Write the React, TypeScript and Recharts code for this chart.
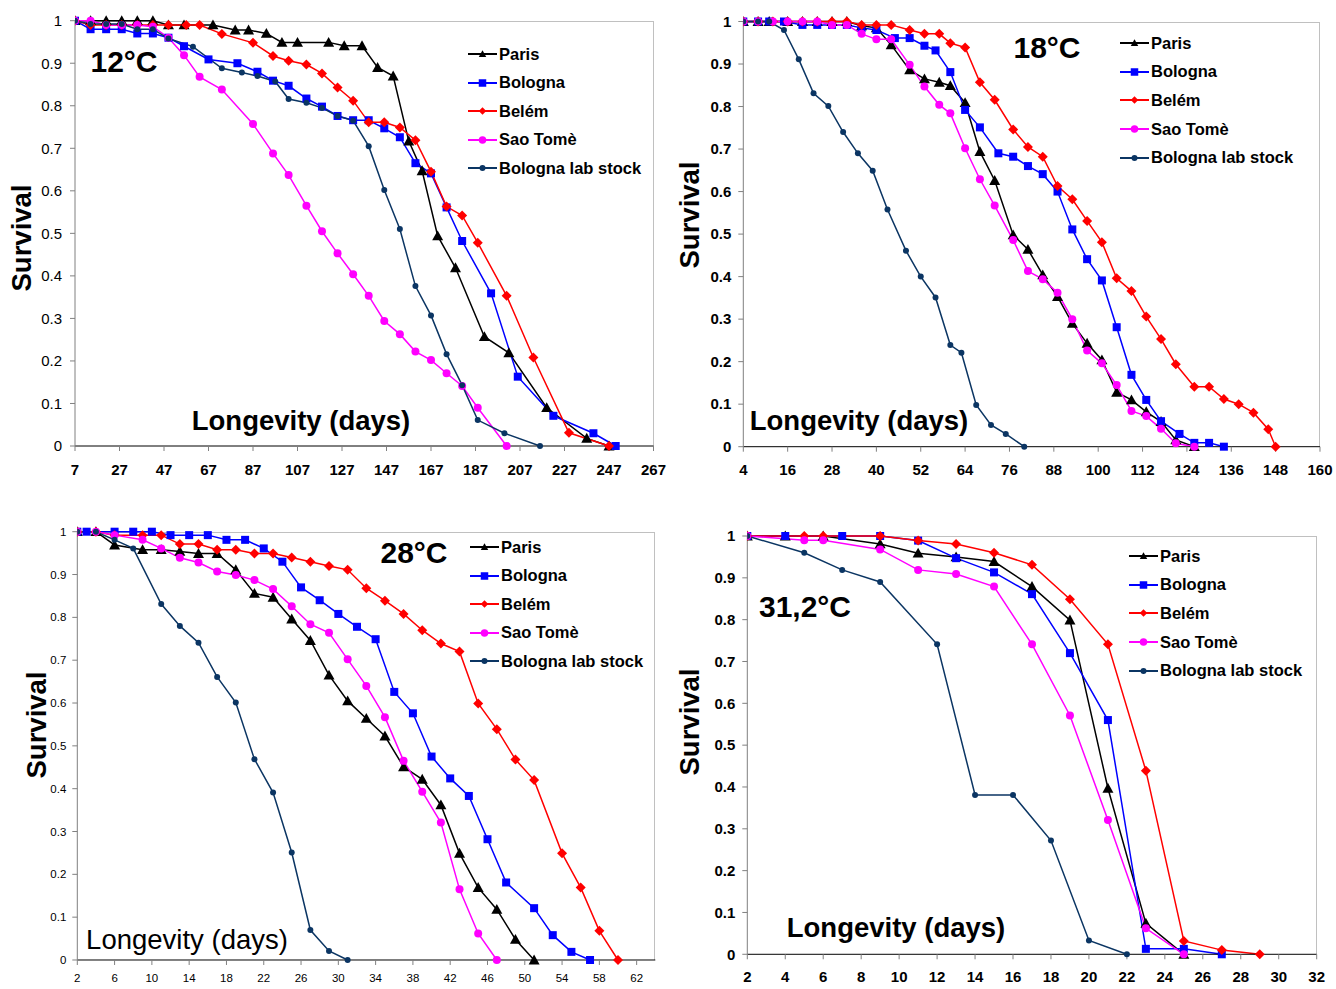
import React from 'react';
import { LineChart, Line, XAxis, YAxis } from 'recharts';

type Pair = [number, number];

// ---- 12°C ----
const paris12: Pair[] = [[7,1],[14,1],[21,1],[28,1],[35,1],[42,1],[49,0.99],[56,0.99],[69,0.99],[79,0.978],[85,0.978],[93,0.97],[100,0.949],[107,0.949],[121,0.949],[128,0.941],[136,0.941],[143,0.89],[150,0.87],[157,0.717],[163,0.647],[170,0.494],[178,0.419],[191,0.257],[202,0.219],[219,0.09],[237,0.018],[247,0]];
const bologna12: Pair[] = [[7,1],[14,0.98],[21,0.98],[28,0.98],[35,0.97],[42,0.97],[49,0.96],[56,0.94],[67,0.909],[80,0.9],[89,0.88],[96,0.859],[103,0.847],[111,0.817],[118,0.798],[125,0.776],[132,0.766],[139,0.766],[146,0.747],[153,0.726],[160,0.665],[167,0.641],[174,0.561],[181,0.482],[194,0.359],[206,0.163],[222,0.071],[240,0.03],[250,0]];
const belem12: Pair[] = [[7,1],[14,0.99],[21,0.99],[28,0.99],[35,0.99],[42,0.99],[49,0.99],[57,0.99],[63,0.99],[73,0.969],[87,0.948],[96,0.917],[103,0.906],[111,0.897],[118,0.876],[125,0.843],[132,0.812],[139,0.761],[146,0.761],[153,0.749],[160,0.719],[167,0.645],[174,0.563],[181,0.542],[188,0.478],[201,0.353],[213,0.208],[229,0.031],[247,0]];
const saoTome12: Pair[] = [[7,1],[14,1],[21,0.99],[28,0.99],[35,0.99],[42,0.986],[49,0.96],[56,0.919],[63,0.868],[73,0.838],[87,0.757],[96,0.688],[103,0.637],[111,0.565],[118,0.505],[125,0.453],[132,0.404],[139,0.353],[146,0.294],[153,0.263],[160,0.222],[167,0.202],[174,0.171],[181,0.141],[188,0.09],[201,0]];
const labStock12: Pair[] = [[7,1],[14,0.992],[21,0.992],[28,0.992],[35,0.98],[42,0.98],[49,0.958],[60,0.939],[73,0.888],[82,0.878],[89,0.87],[97,0.857],[103,0.816],[111,0.807],[118,0.795],[125,0.776],[132,0.765],[139,0.705],[146,0.602],[153,0.51],[160,0.376],[167,0.307],[174,0.216],[181,0.143],[188,0.061],[200,0.03],[216,0]];

// ---- 18°C ----
const paris18: Pair[] = [[4,1],[8,1],[11,1],[16,1],[20,1],[24,1],[28,1],[32,1],[36,0.99],[40,0.985],[44,0.945],[49,0.886],[53,0.865],[57,0.857],[60,0.849],[64,0.809],[68,0.694],[72,0.626],[77,0.498],[81,0.464],[85,0.404],[89,0.353],[93,0.29],[97,0.243],[101,0.204],[105,0.128],[109,0.11],[113,0.082],[117,0.059],[121,0.016],[126,0]];
const bologna18: Pair[] = [[4,1],[8,1],[11,1],[15,1],[20,0.992],[24,0.992],[28,0.992],[32,0.992],[36,0.985],[40,0.98],[45,0.961],[49,0.961],[53,0.943],[56,0.932],[60,0.881],[64,0.792],[68,0.751],[73,0.69],[77,0.682],[81,0.66],[85,0.641],[89,0.6],[93,0.511],[97,0.441],[101,0.391],[105,0.281],[109,0.169],[113,0.11],[117,0.06],[122,0.03],[126,0.009],[130,0.009],[134,0]];
const belem18: Pair[] = [[4,1],[8,1],[12,1],[16,1],[20,1],[24,1],[28,1],[32,1],[36,0.992],[40,0.992],[44,0.992],[49,0.98],[53,0.971],[57,0.971],[60,0.949],[64,0.939],[68,0.857],[72,0.816],[77,0.746],[81,0.705],[85,0.682],[89,0.613],[93,0.582],[97,0.531],[101,0.481],[105,0.396],[109,0.366],[113,0.306],[117,0.253],[121,0.194],[126,0.141],[130,0.141],[134,0.112],[138,0.1],[142,0.08],[146,0.041],[148,0]];
const saoTome18: Pair[] = [[4,1],[8,1],[12,1],[16,1],[20,1],[24,1],[28,0.992],[32,0.992],[36,0.971],[40,0.958],[44,0.958],[49,0.898],[53,0.847],[57,0.804],[60,0.784],[64,0.702],[68,0.629],[72,0.567],[77,0.486],[81,0.413],[85,0.394],[89,0.362],[93,0.3],[97,0.226],[101,0.196],[105,0.145],[109,0.084],[113,0.072],[117,0.042],[121,0.008],[126,0]];
const labStock18: Pair[] = [[4,1],[8,1],[11,1],[15,0.98],[19,0.911],[23,0.831],[27,0.801],[31,0.74],[35,0.69],[39,0.649],[43,0.558],[48,0.461],[52,0.4],[56,0.351],[60,0.239],[63,0.221],[67,0.098],[71,0.051],[75,0.03],[80,0]];

// ---- 28°C ----
const paris28: Pair[] = [[2,1],[4,1],[6,0.969],[9,0.958],[11,0.958],[13,0.954],[15,0.949],[17,0.949],[19,0.911],[21,0.856],[23,0.847],[25,0.796],[27,0.746],[29,0.665],[31,0.605],[33,0.564],[35,0.523],[37,0.451],[39,0.422],[41,0.362],[43,0.249],[45,0.169],[47,0.118],[49,0.048],[51,0]];
const bologna28: Pair[] = [[2,1],[3,1],[6,1],[8,1],[10,1],[12,0.992],[14,0.992],[16,0.992],[18,0.981],[20,0.981],[22,0.961],[24,0.93],[26,0.87],[28,0.84],[30,0.808],[32,0.778],[34,0.749],[36,0.626],[38,0.576],[40,0.475],[42,0.424],[44,0.383],[46,0.282],[48,0.181],[51,0.121],[53,0.058],[55,0.019],[57,0]];
const belem28: Pair[] = [[2,1],[4,1],[6,0.992],[9,0.992],[11,0.992],[13,0.971],[15,0.971],[17,0.958],[19,0.958],[21,0.949],[23,0.949],[25,0.94],[27,0.93],[29,0.92],[31,0.911],[33,0.868],[35,0.839],[37,0.808],[39,0.77],[41,0.739],[43,0.72],[45,0.599],[47,0.539],[49,0.468],[51,0.42],[54,0.249],[56,0.169],[58,0.068],[60,0]];
const saoTome28: Pair[] = [[2,1],[4,1],[6,0.992],[9,0.981],[11,0.961],[13,0.939],[15,0.928],[17,0.907],[19,0.899],[21,0.887],[23,0.866],[25,0.826],[27,0.784],[29,0.764],[31,0.702],[33,0.64],[35,0.567],[37,0.465],[39,0.393],[41,0.321],[43,0.165],[45,0.062],[47,0]];
const labStock28: Pair[] = [[2,1],[4,1],[6,0.981],[8,0.961],[11,0.831],[13,0.78],[15,0.741],[17,0.661],[19,0.601],[21,0.469],[23,0.391],[25,0.251],[27,0.07],[29,0.021],[31,0]];

// ---- 31,2°C ----
const paris31: Pair[] = [[2,1],[4,1],[6,1],[9,0.981],[11,0.959],[13,0.95],[15,0.939],[17,0.879],[19,0.799],[21,0.397],[23,0.074],[25,0]];
const bologna31: Pair[] = [[2,1],[4,1],[7,1],[9,1],[11,0.989],[13,0.947],[15,0.913],[17,0.861],[19,0.72],[21,0.56],[23,0.013],[25,0.013],[27,0]];
const belem31: Pair[] = [[2,1],[5,1],[6,1],[9,1],[11,0.989],[13,0.981],[15,0.96],[17,0.931],[19,0.849],[21,0.741],[23,0.439],[25,0.032],[27,0.01],[29,0]];
const saoTome31: Pair[] = [[2,1],[5,0.99],[6,0.99],[9,0.968],[11,0.919],[13,0.909],[15,0.879],[17,0.741],[19,0.571],[21,0.321],[23,0.062],[25,0]];
const labStock31: Pair[] = [[2,1],[5,0.96],[7,0.919],[9,0.89],[12,0.741],[14,0.381],[16,0.381],[18,0.272],[20,0.033],[22,0]];

const seriesNames = ['Paris', 'Bologna', 'Belém', 'Sao Tomè', 'Bologna lab stock'];
const yTicks = [0, 0.1, 0.2, 0.3, 0.4, 0.5, 0.6, 0.7, 0.8, 0.9, 1];
const ticks12 = [7, 27, 47, 67, 87, 107, 127, 147, 167, 187, 207, 227, 247, 267];
const ticks18 = [4, 16, 28, 40, 52, 64, 76, 88, 100, 112, 124, 136, 148, 160];
const ticks28 = [2, 6, 10, 14, 18, 22, 26, 30, 34, 38, 42, 46, 50, 54, 58, 62];
const ticks31 = [2, 4, 6, 8, 10, 12, 14, 16, 18, 20, 22, 24, 26, 28, 30, 32];

const FONT = '"Liberation Sans", Arial, sans-serif';

type Shape = 'triangle' | 'square' | 'diamond' | 'circle' | 'dot';
const styles: { color: string; shape: Shape; size: number }[] = [
  { color: '#000000', shape: 'triangle', size: 11 },
  { color: '#0000ff', shape: 'square', size: 8 },
  { color: '#ff0000', shape: 'diamond', size: 10 },
  { color: '#ff00ff', shape: 'circle', size: 8 },
  { color: '#0b3563', shape: 'dot', size: 6 },
];

function Marker({ shape, x, y, s, color }: { shape: Shape; x: number; y: number; s: number; color: string }) {
  if (shape === 'triangle') {
    const h = s * 0.5;
    return <polygon points={`${x},${y - h} ${x + h},${y + h * 0.8} ${x - h},${y + h * 0.8}`} fill={color} />;
  }
  if (shape === 'square') return <rect x={x - s / 2} y={y - s / 2} width={s} height={s} fill={color} />;
  if (shape === 'diamond') {
    const h = s / 2;
    return <polygon points={`${x},${y - h} ${x + h},${y} ${x},${y + h} ${x - h},${y}`} fill={color} />;
  }
  return <circle cx={x} cy={y} r={s / 2} fill={color} />;
}

const makeDot = (shape: Shape, color: string, size: number) => (props: any) => {
  const { cx, cy, index } = props;
  if (cx == null || cy == null) return <g key={`e${index}`} />;
  return <Marker key={`m${index}`} shape={shape} x={cx} y={cy} s={size} color={color} />;
};

interface PanelProps {
  L: number; T: number;
  x0: number; x1: number; y0: number; y1: number;
  domain: [number, number];
  xTicks: number[];
  data: Pair[][];
  xFont: number; xBold: boolean; xMargin: number;
  yFont: number; yBold: boolean; yMargin: number;
}

function Panel(p: PanelProps) {
  const W = p.x1 - p.L + 30;
  const H = p.y1 - p.T + 45;
  const axisH = 35;
  return (
    <div style={{ position: 'absolute', left: p.L, top: p.T }}>
      <div style={{ position: 'absolute', left: p.x0 - p.L, top: p.y0 - p.T, width: p.x1 - p.x0, height: p.y1 - p.y0, borderTop: '1px solid #c0c0c0', borderRight: '1px solid #c0c0c0', boxSizing: 'border-box' }} />
      <LineChart width={W} height={H} margin={{ top: p.y0 - p.T, right: W - (p.x1 - p.L), left: 0, bottom: H - (p.y1 - p.T) - axisH }}>
        <XAxis
          type="number" dataKey="x" domain={p.domain} ticks={p.xTicks} interval={0} allowDataOverflow
          height={axisH} stroke="#000" tickLine={{ stroke: '#808080' }} tickSize={5} tickMargin={p.xMargin}
          tick={{ fill: '#000', fontSize: p.xFont, fontWeight: p.xBold ? 'bold' : 'normal', fontFamily: FONT }}
        />
        <YAxis
          type="number" domain={[0, 1]} ticks={yTicks} interval={0} width={p.x0 - p.L}
          stroke="#808080" tickSize={5} tickMargin={p.yMargin}
          tickFormatter={(v: number) => (v === 0 ? '0' : v === 1 ? '1' : v.toFixed(1))}
          tick={{ fill: '#000', fontSize: p.yFont, fontWeight: p.yBold ? 'bold' : 'normal', fontFamily: FONT }}
        />
        {p.data.map((pts, i) => (
          <Line
            key={seriesNames[i]}
            name={seriesNames[i]}
            data={pts.map(([x, y]) => ({ x, y }))}
            dataKey="y"
            type="linear"
            stroke={styles[i].color}
            strokeWidth={1.5}
            dot={makeDot(styles[i].shape, styles[i].color, styles[i].size)}
            activeDot={false}
            isAnimationActive={false}
          />
        ))}
      </LineChart>
    </div>
  );
}

function LegendBox({ x, y, step }: { x: number; y: number; step: number }) {
  return (
    <div style={{ position: 'absolute', left: x, top: y }}>
      {seriesNames.map((n, i) => (
        <div key={n} style={{ position: 'absolute', left: 0, top: i * step - 10, height: 20, display: 'flex', alignItems: 'center', whiteSpace: 'nowrap' }}>
          <svg width={30} height={20}>
            <line x1={0} y1={10} x2={29} y2={10} stroke={styles[i].color} strokeWidth={2} />
            <Marker shape={styles[i].shape} x={14.5} y={10} s={styles[i].shape === 'dot' ? 6 : 7.5} color={styles[i].color} />
          </svg>
          <span style={{ fontFamily: FONT, fontWeight: 'bold', fontSize: 16.5, marginLeft: 1 }}>{n}</span>
        </div>
      ))}
    </div>
  );
}

function CenterText({ x, y, text, size, bold = true, rotate = false }: { x: number; y: number; text: string; size: number; bold?: boolean; rotate?: boolean }) {
  return (
    <div style={{
      position: 'absolute', left: x, top: y, whiteSpace: 'nowrap', lineHeight: 1,
      fontFamily: FONT, fontSize: size, fontWeight: bold ? 'bold' : 'normal', color: '#000',
      transform: `translate(-50%, -50%)${rotate ? ' rotate(-90deg)' : ''}`,
    }}>{text}</div>
  );
}

export default function App() {
  return (
    <div style={{ position: 'absolute', left: 0, top: 0, width: 1336, height: 989, background: '#fff', overflow: 'hidden' }}>
      <Panel L={0} T={0} x0={75} x1={653.5} y0={20.7} y1={446} domain={[7, 267]} xTicks={ticks12}
        data={[paris12, bologna12, belem12, saoTome12, labStock12]}
        xFont={15} xBold xMargin={13} yFont={15} yBold={false} yMargin={8} />
      <Panel L={670} T={0} x0={743.3} x1={1320} y0={21.5} y1={446.7} domain={[4, 160]} xTicks={ticks18}
        data={[paris18, bologna18, belem18, saoTome18, labStock18]}
        xFont={15} xBold xMargin={13} yFont={15} yBold yMargin={7} />
      <Panel L={0} T={500} x0={77.3} x1={655.3} y0={531.7} y1={960} domain={[2, 64]} xTicks={ticks28}
        data={[paris28, bologna28, belem28, saoTome28, labStock28]}
        xFont={11.5} xBold={false} xMargin={9} yFont={11.5} yBold={false} yMargin={6} />
      <Panel L={670} T={500} x0={747.3} x1={1316.7} y0={536} y1={954.3} domain={[2, 32]} xTicks={ticks31}
        data={[paris31, bologna31, belem31, saoTome31, labStock31]}
        xFont={15} xBold xMargin={12} yFont={15} yBold yMargin={7} />

      <CenterText x={22} y={238} text="Survival" size={27.5} rotate />
      <CenterText x={690} y={215} text="Survival" size={27.5} rotate />
      <CenterText x={37} y={725} text="Survival" size={27.5} rotate />
      <CenterText x={690} y={722} text="Survival" size={27.5} rotate />

      <CenterText x={124} y={62} text="12°C" size={30} />
      <CenterText x={1047} y={48} text="18°C" size={30} />
      <CenterText x={414} y={553} text="28°C" size={30} />
      <CenterText x={805} y={607} text="31,2°C" size={30} />

      <CenterText x={301} y={421} text="Longevity (days)" size={27.5} />
      <CenterText x={859} y={421} text="Longevity (days)" size={27.5} />
      <CenterText x={187} y={940} text="Longevity (days)" size={27.5} bold={false} />
      <CenterText x={896} y={928} text="Longevity (days)" size={27.5} />

      <LegendBox x={468} y={54} step={28.5} />
      <LegendBox x={1120} y={43} step={28.7} />
      <LegendBox x={470} y={547} step={28.5} />
      <LegendBox x={1129} y={556} step={28.7} />
    </div>
  );
}
